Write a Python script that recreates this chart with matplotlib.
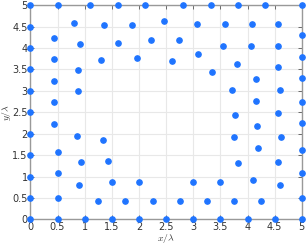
import numpy as np
import matplotlib
matplotlib.use('Agg')
import matplotlib.pyplot as plt

plt.rcParams['mathtext.fontset'] = 'cm'

# boundary points
left_y = [0, 0.5, 1, 1.5, 2, 2.5, 3, 3.5, 4, 4.5, 5]
bottom_x = [0.5, 1, 1.5, 2, 2.5, 3, 3.5, 4, 4.5, 5]
top_x = [0.5, 1.1, 1.61, 2.12, 2.82, 3.33, 3.83, 4.33, 5]
right_y = [0.5, 1.09, 1.62, 2.24, 2.74, 3.30, 3.80, 4.30]

# interior points
inner_x = [0.80, 1.36, 1.87, 2.47, 3.07, 3.58, 4.08, 4.57,
           0.44, 0.91, 1.61, 2.22, 2.73, 3.55, 4.06, 4.57,
           0.44, 1.31, 1.96, 2.60, 3.09, 3.81, 4.56,
           0.87, 3.35, 0.44, 4.15, 0.88, 3.71, 4.59,
           0.44, 4.15, 3.77, 4.57, 0.44, 4.18,
           0.85, 3.76, 4.62, 1.34, 0.50, 4.19,
           0.93, 1.43, 3.82, 4.56, 0.50,
           0.90, 1.50, 2.00, 2.99, 3.50, 4.11, 4.60,
           0.50, 1.25, 1.75, 2.25, 2.75, 3.25, 3.76, 4.25]
inner_y = [4.58, 4.55, 4.55, 4.64, 4.56, 4.56, 4.56, 4.56,
           4.24, 4.09, 4.13, 4.20, 4.20, 4.06, 4.06, 4.05,
           3.74, 3.73, 3.77, 3.71, 3.86, 3.64, 3.55,
           3.49, 3.43, 3.24, 3.27, 2.99, 3.02, 3.02,
           2.73, 2.77, 2.44, 2.49, 2.23, 2.18,
           1.94, 1.92, 1.92, 1.85, 1.58, 1.67,
           1.33, 1.36, 1.32, 1.33, 1.08,
           0.79, 0.86, 0.86, 0.86, 0.86, 0.91, 0.79,
           0.50, 0.43, 0.43, 0.43, 0.43, 0.43, 0.43, 0.43]

xs = np.concatenate([np.zeros(len(left_y)), bottom_x, top_x,
                     np.full(len(right_y), 5.0), inner_x])
ys = np.concatenate([left_y, np.zeros(len(bottom_x)), np.full(len(top_x), 5.0),
                     right_y, inner_y])

fig = plt.figure(figsize=(3.07, 2.46), dpi=100)
ax = fig.add_axes([0.099, 0.1085, 0.884, 0.870])

ax.plot(xs, ys, 'o', color='#1f74ff', markersize=3.8, clip_on=False, zorder=5)

ticks = np.arange(0, 5.01, 0.5)
labels = ['%g' % t for t in ticks]
ax.set_xticks(ticks)
ax.set_xticklabels(labels)
ax.set_yticks(ticks)
ax.set_yticklabels(labels)
ax.set_xlim(0, 5)
ax.set_ylim(0, 5)
ax.grid(True, color='#e8e8e8', linewidth=0.8)
ax.set_axisbelow(True)
ax.tick_params(direction='in', length=3, width=0.6, color='#555555',
               labelsize=7, labelcolor='#333333', pad=2,
               top=True, right=True)
for s in ax.spines.values():
    s.set_color('#999999')
    s.set_linewidth(1.0)

ax.set_xlabel(r'$x/\lambda$', fontsize=7, color='#333333')
ax.set_ylabel(r'$y/\lambda$', fontsize=7, color='#333333')
ax.xaxis.set_label_coords(0.5, -0.058)
ax.yaxis.set_label_coords(-0.063, 0.5)

fig.savefig('out.png', dpi=100)
